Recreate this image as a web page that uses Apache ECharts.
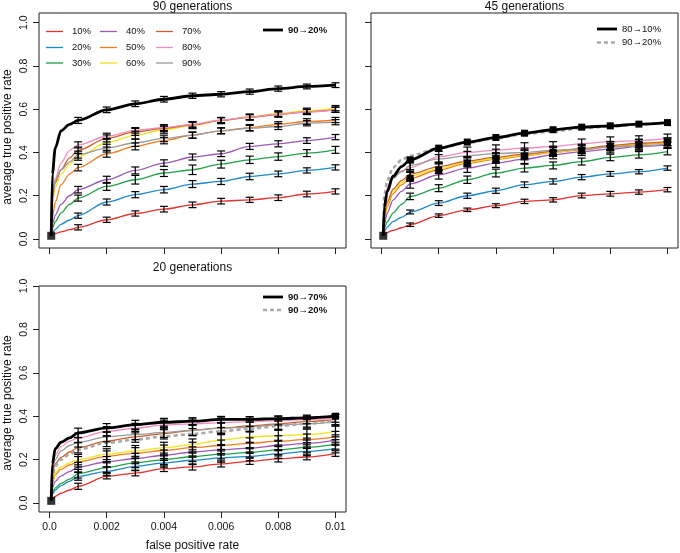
<!DOCTYPE html>
<html><head><meta charset="utf-8">
<script src="https://cdn.jsdelivr.net/npm/echarts@6/dist/echarts.min.js"></script>
<style>html,body{margin:0;padding:0;background:#fff}#c{width:680px;height:553px}</style>
</head><body><div id="c"></div>
<script>
// ---------- data ----------
const fprGrid = [0.00006, 0.0001, 0.0002, 0.0004, 0.0007, 0.001, 0.002, 0.003, 0.004, 0.005, 0.006, 0.007, 0.008, 0.009, 0.01];
const xTicks = [0, 0.002, 0.004, 0.006, 0.008, 0.01];
const xTickLabels = ['0.0', '0.002', '0.004', '0.006', '0.008', '0.01'];
const yTicks = [0, 0.2, 0.4, 0.6, 0.8, 1.0];
const yTickLabels = ['0.0', '0.2', '0.4', '0.6', '0.8', '1.0'];
const levels = ['10%', '20%', '30%', '40%', '50%', '60%', '70%', '80%', '90%'];
const panelTitles = ['90 generations', '45 generations', '20 generations'];
const xTitle = 'false positive rate';
const yTitle = 'average true positive rate';

// 90 generations
const g90_10 = [0.015,0.018,0.025,0.033,0.043, 0.054,0.089,0.118,0.138,0.158,0.175,0.181,0.191,0.208,0.220];
const g90_20 = [0.015,0.03,0.045,0.068,0.088, 0.108,0.171,0.205,0.228,0.254,0.266,0.289,0.301,0.317,0.331];
const g90_30 = [0.015,0.05,0.08,0.12,0.16, 0.189,0.243,0.274,0.305,0.32,0.346,0.366,0.381,0.397,0.412];
const g90_40 = [0.015,0.07,0.11,0.16,0.2, 0.228,0.274,0.317,0.351,0.379,0.394,0.428,0.44,0.455,0.471];
const g90_50 = [0.015,0.1,0.17,0.25,0.3, 0.33,0.394,0.428,0.455,0.48,0.5,0.515,0.53,0.543,0.55];
const g90_60 = [0.015,0.17,0.24,0.3,0.345, 0.38,0.445,0.48,0.505,0.525,0.547,0.565,0.58,0.593,0.605];
const g90_70 = [0.015,0.19,0.26,0.32,0.375, 0.41,0.465,0.495,0.512,0.528,0.548,0.562,0.575,0.588,0.598];
const g90_80 = [0.015,0.2,0.28,0.35,0.41, 0.435,0.475,0.502,0.515,0.53,0.55,0.563,0.577,0.587,0.597];
const g90_90 = [0.015,0.2,0.27,0.32,0.355, 0.39,0.42,0.445,0.465,0.48,0.5,0.512,0.52,0.535,0.54];
const g90_9020 = [0.015,0.3,0.42,0.5,0.53, 0.548,0.597,0.625,0.646,0.662,0.669,0.681,0.695,0.705,0.711];
const g90_err = [
  [0.012,0.012,0.012,0.013,0.013,0.013,0.012,0.013,0.013,0.012],
  [0.012,0.014,0.014,0.015,0.016,0.014,0.015,0.013,0.012,0.012],
  [0.014,0.018,0.02,0.016,0.022,0.018,0.017,0.017,0.016,0.016],
  [0.015,0.016,0.016,0.015,0.014,0.013,0.014,0.014,0.013,0.012],
  [0.015,0.016,0.016,0.015,0.014,0.014,0.014,0.012,0.013,0.012],
  [0.016,0.02,0.018,0.016,0.015,0.014,0.013,0.013,0.012,0.012],
  [0.015,0.016,0.016,0.015,0.014,0.013,0.013,0.012,0.012,0.012],
  [0.014,0.014,0.013,0.013,0.012,0.012,0.012,0.012,0.012,0.012],
  [0.016,0.018,0.017,0.015,0.014,0.013,0.013,0.014,0.012,0.012]
];
const g90_9020_err = [0.014,0.013,0.013,0.013,0.012,0.012,0.012,0.012,0.011,0.011];

// 45 generations
const g45_10 = [0.015,0.02,0.03,0.04,0.052, 0.066,0.108,0.135,0.154,0.174,0.181,0.201,0.209,0.217,0.228];
const g45_20 = [0.015,0.035,0.055,0.08,0.1, 0.125,0.166,0.2,0.223,0.251,0.266,0.286,0.301,0.311,0.328];
const g45_30 = [0.015,0.05,0.08,0.12,0.16, 0.197,0.235,0.274,0.305,0.328,0.34,0.358,0.377,0.389,0.404];
const g45_40 = [0.015,0.07,0.12,0.18,0.22, 0.255,0.297,0.328,0.351,0.369,0.389,0.404,0.415,0.428,0.435];
const g45_50 = [0.015,0.09,0.15,0.21,0.25, 0.28,0.32,0.35,0.368,0.384,0.4,0.412,0.427,0.438,0.446];
const g45_60 = [0.015,0.1,0.16,0.22,0.26, 0.29,0.325,0.355,0.372,0.388,0.402,0.414,0.43,0.44,0.448];
const g45_70 = [0.015,0.11,0.17,0.23,0.27, 0.3,0.335,0.36,0.378,0.392,0.405,0.418,0.432,0.442,0.45];
const g45_80 = [0.015,0.15,0.24,0.29,0.315, 0.33,0.38,0.4,0.41,0.42,0.428,0.44,0.45,0.455,0.465];
const g45_90 = [0.015,0.14,0.22,0.28,0.31, 0.34,0.37,0.385,0.395,0.4,0.41,0.415,0.425,0.43,0.44];
const g45_8010 = [0.015,0.15,0.22,0.29,0.335, 0.366,0.42,0.448,0.469,0.489,0.505,0.517,0.523,0.531,0.538];
const g45_9020 = [0.015,0.2,0.27,0.33,0.365, 0.385,0.42,0.445,0.465,0.485,0.497,0.512,0.52,0.53,0.538];
const g45_err = [
  [0.008,0.008,0.008,0.009,0.01,0.01,0.011,0.011,0.01,0.01],
  [0.009,0.011,0.012,0.012,0.013,0.012,0.012,0.011,0.01,0.01],
  [0.015,0.016,0.017,0.018,0.018,0.016,0.016,0.015,0.015,0.015],
  [0.02,0.02,0.02,0.02,0.02,0.018,0.018,0.017,0.017,0.016],
  [0.004,0.004,0.004,0.004,0.004,0.004,0.004,0.004,0.004,0.004],
  [0.022,0.022,0.022,0.022,0.022,0.02,0.02,0.02,0.02,0.018],
  [0.02,0.02,0.021,0.021,0.02,0.02,0.02,0.019,0.019,0.018],
  [0.022,0.025,0.025,0.025,0.025,0.022,0.022,0.022,0.022,0.02],
  [0.02,0.02,0.02,0.02,0.02,0.019,0.019,0.018,0.018,0.018]
];
const g45_8010_err = [0.004,0.004,0.004,0.004,0.004,0.004,0.004,0.004,0.004,0.004];

// 20 generations
const g20_10 = [0.01,0.02,0.03,0.045,0.06, 0.077,0.123,0.138,0.158,0.166,0.18,0.192,0.203,0.212,0.228];
const g20_20 = [0.01,0.04,0.06,0.08,0.1, 0.123,0.146,0.169,0.185,0.197,0.208,0.215,0.226,0.238,0.251];
const g20_30 = [0.01,0.05,0.07,0.09,0.11, 0.135,0.163,0.185,0.2,0.213,0.225,0.233,0.245,0.256,0.27];
const g20_40 = [0.01,0.07,0.1,0.125,0.145, 0.165,0.19,0.205,0.22,0.235,0.245,0.253,0.265,0.275,0.29];
const g20_50 = [0.01,0.09,0.13,0.155,0.175, 0.19,0.215,0.23,0.242,0.255,0.265,0.275,0.285,0.293,0.305];
const g20_60 = [0.01,0.1,0.14,0.165,0.185, 0.2,0.225,0.24,0.255,0.27,0.29,0.305,0.31,0.315,0.33];
const g20_70 = [0.01,0.14,0.18,0.21,0.235, 0.255,0.285,0.305,0.32,0.335,0.345,0.355,0.365,0.375,0.385];
const g20_80 = [0.01,0.16,0.22,0.26,0.285, 0.3,0.33,0.345,0.36,0.365,0.37,0.375,0.38,0.385,0.39];
const g20_90 = [0.01,0.15,0.2,0.24,0.265, 0.28,0.305,0.315,0.325,0.335,0.345,0.35,0.36,0.365,0.375];
const g20_9070 = [0.01,0.18,0.25,0.28,0.3, 0.323,0.346,0.361,0.372,0.377,0.385,0.385,0.389,0.392,0.4];
const g20_9020 = [0.01,0.12,0.17,0.2,0.225, 0.246,0.277,0.292,0.307,0.318,0.331,0.342,0.354,0.366,0.377];
const g20_err = [
  [0.014,0.012,0.013,0.013,0.014,0.014,0.014,0.014,0.013,0.013],
  [0.018,0.02,0.02,0.02,0.02,0.02,0.02,0.02,0.02,0.02],
  [0.02,0.022,0.022,0.022,0.022,0.022,0.022,0.022,0.022,0.022],
  [0.022,0.024,0.024,0.024,0.024,0.024,0.024,0.024,0.024,0.024],
  [0.024,0.025,0.025,0.025,0.025,0.025,0.025,0.025,0.025,0.025],
  [0.024,0.025,0.025,0.025,0.025,0.025,0.025,0.025,0.025,0.025],
  [0.024,0.025,0.025,0.025,0.025,0.025,0.025,0.025,0.025,0.024],
  [0.022,0.022,0.022,0.022,0.022,0.022,0.022,0.02,0.02,0.018],
  [0.022,0.023,0.023,0.023,0.023,0.023,0.023,0.022,0.02,0.02]
];
const g20_9070_err = [0.022,0.02,0.02,0.018,0.016,0.014,0.013,0.012,0.008,0.006];

// ---------- styling ----------
const levelColors = ['#e3342f','#1f88c9','#22a04a','#9b59b6','#f07c22','#f2e21a','#c8602a','#f08cc0','#9a9a9a'];
const FONT = '"Liberation Sans", Arial, Helvetica, sans-serif';
const TXT = '#111';
const grids = [
  {left: 39, top: 13, width: 307, height: 235},
  {left: 371, top: 13, width: 307, height: 235},
  {left: 39, top: 286, width: 307, height: 226}
];
const yRanges = [[-0.0415, 1.0445], [-0.0415, 1.0445], [-0.0415, 1.0]];
const xRange = [-0.000368, 0.010368];

const panels = [
  {colored: [g90_10,g90_20,g90_30,g90_40,g90_50,g90_60,g90_70,g90_80,g90_90], err: g90_err,
   extra: [{name: '90→20%', vals: g90_9020, err: g90_9020_err, dashed: false}]},
  {colored: [g45_10,g45_20,g45_30,g45_40,g45_50,g45_60,g45_70,g45_80,g45_90], err: g45_err,
   extra: [{name: '90→20%', vals: g45_9020, err: null, dashed: true},
           {name: '80→10%', vals: g45_8010, err: g45_8010_err, dashed: false}]},
  {colored: [g20_10,g20_20,g20_30,g20_40,g20_50,g20_60,g20_70,g20_80,g20_90], err: g20_err,
   extra: [{name: '90→20%', vals: g20_9020, err: null, dashed: true},
           {name: '90→70%', vals: g20_9070, err: g20_9070_err, dashed: false}]}
];

function errRender(params, api) {
  const x = api.value(0), y = api.value(1), e = api.value(2);
  const top = api.coord([x, y + e]), bot = api.coord([x, y - e]);
  const h = 4;
  const st = {stroke: '#000', lineWidth: 1.2};
  if (bot[1] - top[1] < 3) {
    const cy = (top[1] + bot[1]) / 2;
    return {type: 'rect', shape: {x: top[0] - 3.5, y: cy - 3.5, width: 7, height: 7}, style: {fill: '#000'}};
  }
  return {type: 'group', children: [
    {type: 'line', shape: {x1: top[0], y1: top[1], x2: bot[0], y2: bot[1]}, style: st},
    {type: 'line', shape: {x1: top[0] - h, y1: top[1], x2: top[0] + h, y2: top[1]}, style: st},
    {type: 'line', shape: {x1: bot[0] - h, y1: bot[1], x2: bot[0] + h, y2: bot[1]}, style: st}
  ]};
}

const series = [];
panels.forEach((p, gi) => {
  p.colored.forEach((vals, k) => {
    series.push({type: 'line', name: levels[k], xAxisIndex: gi, yAxisIndex: gi,
      data: fprGrid.map((x, i) => [x, vals[i]]), showSymbol: false, smooth: 0.3, smoothMonotone: 'x',
      lineStyle: {color: levelColors[k], width: 1.3}, z: 2, silent: true, animation: false});
  });
  p.extra.forEach(ex => {
    series.push({type: 'line', name: ex.name, xAxisIndex: gi, yAxisIndex: gi,
      data: fprGrid.map((x, i) => [x, ex.vals[i]]), showSymbol: false, smooth: 0.3, smoothMonotone: 'x',
      lineStyle: ex.dashed ? {color: '#a8a8a8', width: 2.6, type: [4, 3]} : {color: '#000', width: 2.8},
      z: ex.dashed ? 3 : 4, silent: true, animation: false});
  });
  const errData = [];
  p.colored.forEach((vals, k) => {
    for (let i = 5; i < fprGrid.length; i++) errData.push([fprGrid[i], vals[i], p.err[k][i - 5]]);
  });
  p.extra.forEach(ex => {
    if (!ex.err) return;
    for (let i = 5; i < fprGrid.length; i++) errData.push([fprGrid[i], ex.vals[i], ex.err[i - 5]]);
  });
  series.push({type: 'custom', xAxisIndex: gi, yAxisIndex: gi, renderItem: errRender,
    data: errData, z: 6, silent: true, animation: false, clip: false});
  const main = p.extra[p.extra.length - 1];
  series.push({type: 'scatter', xAxisIndex: gi, yAxisIndex: gi, symbol: 'rect', symbolSize: 8,
    itemStyle: {color: '#000'}, data: [[fprGrid[0], main.vals[0]]], z: 7, silent: true, animation: false});
});

const xAxes = grids.map((g, gi) => ({
  type: 'value', gridIndex: gi, min: xRange[0], max: xRange[1],
  axisLine: {show: false, onZero: false}, splitLine: {show: false},
  axisTick: {show: true, length: 6, lineStyle: {color: '#222', width: 1}, customValues: xTicks},
  axisLabel: {show: gi === 2, customValues: xTicks, fontFamily: FONT, fontSize: 10.5, color: TXT, margin: 10,
    formatter: v => xTickLabels[xTicks.findIndex(t => Math.abs(t - v) < 1e-9)]},
  name: gi === 2 ? xTitle : '', nameLocation: 'middle', nameGap: 28,
  nameTextStyle: {fontFamily: FONT, fontSize: 12, color: TXT}
}));
const yAxes = grids.map((g, gi) => ({
  type: 'value', gridIndex: gi, min: yRanges[gi][0], max: yRanges[gi][1],
  axisLine: {show: false, onZero: false}, splitLine: {show: false},
  axisTick: {show: true, length: 6, lineStyle: {color: '#222', width: 1}, customValues: yTicks},
  axisLabel: {show: gi !== 1, customValues: yTicks, rotate: 90, fontFamily: FONT, fontSize: 10.5, color: TXT, margin: 9,
    formatter: v => yTickLabels[yTicks.findIndex(t => Math.abs(t - v) < 1e-9)]}
}));

// graphics: titles, y titles, legends
const graphic = [];
const titlePos = [[192.5, 6.5], [524.5, 6.5], [192.5, 268]];
panelTitles.forEach((t, i) => graphic.push({type: 'text', x: titlePos[i][0], y: titlePos[i][1],
  style: {text: t, font: '12px ' + FONT, fill: TXT, textAlign: 'center', textVerticalAlign: 'middle'}}));
[[8, 137], [8, 403]].forEach(pos => graphic.push({type: 'text', x: pos[0], y: pos[1], rotation: Math.PI / 2,
  style: {text: yTitle, font: '12px ' + FONT, fill: TXT, textAlign: 'center', textVerticalAlign: 'middle'}}));
const legCols = [46, 100, 156], legRows = [31.5, 47.5, 63];
levels.forEach((lab, i) => {
  const c = Math.floor(i / 3), r = i % 3;
  graphic.push({type: 'line', shape: {x1: legCols[c], y1: legRows[r], x2: legCols[c] + 17, y2: legRows[r]},
    style: {stroke: levelColors[i], lineWidth: 1.3}});
  graphic.push({type: 'text', x: legCols[c] + 26, y: legRows[r],
    style: {text: lab, font: '9.5px ' + FONT, fill: TXT, textVerticalAlign: 'middle'}});
});
function legendItem(x, y, label, dashed, bold) {
  graphic.push({type: 'line', shape: {x1: x, y1: y, x2: x + 20, y2: y},
    style: dashed ? {stroke: '#a8a8a8', lineWidth: 2.6, lineDash: [4, 3]} : {stroke: '#000', lineWidth: 2.8}});
  graphic.push({type: 'text', x: x + 25, y: y,
    style: {text: label, font: (bold ? 'bold ' : '') + '9.5px ' + FONT, fill: TXT, textVerticalAlign: 'middle'}});
}
legendItem(263, 30, panels[0].extra[0].name, false, true);
legendItem(597, 29, panels[1].extra[1].name, false, false);
legendItem(597, 42.5, panels[1].extra[0].name, true, false);
legendItem(263, 297, panels[2].extra[1].name, false, true);
legendItem(263, 310, panels[2].extra[0].name, true, true);

const chart = echarts.init(document.getElementById('c'), null, {renderer: 'canvas'});
chart.setOption({
  animation: false,
  backgroundColor: '#fff',
  grid: grids.map(g => Object.assign({show: true, borderColor: '#222', borderWidth: 1, backgroundColor: 'transparent'}, g)),
  xAxis: xAxes, yAxis: yAxes, series: series, graphic: graphic
});
</script></body></html>
